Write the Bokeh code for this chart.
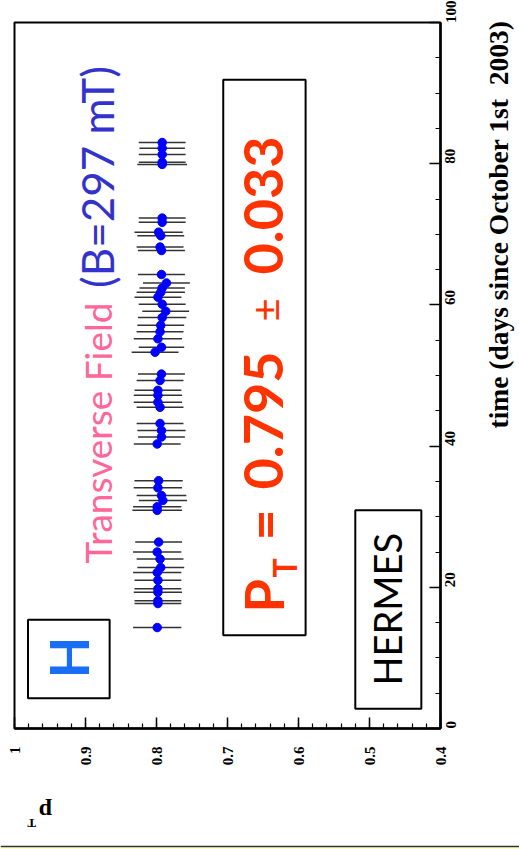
import math
from bokeh.plotting import figure
from bokeh.models import (Range1d, SingleIntervalTicker, Label, BoxAnnotation,
                          CustomJSTickFormatter, ColumnDataSource)
from bokeh.layouts import column, row
from bokeh.embed import file_html
from bokeh.resources import INLINE

# ---- data ----
days = [14.3, 17.7, 18.1, 19.3, 19.8, 21.0, 22.1, 22.8, 24.0, 25.0, 26.4,
        30.9, 31.4, 32.3, 33.0, 34.1, 35.1,
        40.3, 41.3, 42.2, 43.2,
        45.5, 46.2, 47.2, 47.9, 49.3, 50.2,
        53.3, 54.0, 55.2, 56.2, 57.1, 58.2, 59.1, 60.1, 61.1, 61.8, 62.4, 63.1, 64.3,
        67.7, 68.2, 69.8, 70.3, 71.7, 72.3,
        79.9, 80.2, 81.3, 82.2, 83.0]
pt = [0.799, 0.798, 0.798, 0.798, 0.798, 0.798, 0.799, 0.794, 0.795, 0.799, 0.797,
      0.799, 0.799, 0.791, 0.793, 0.798, 0.797,
      0.799, 0.793, 0.793, 0.795,
      0.795, 0.798, 0.798, 0.798, 0.795, 0.793,
      0.802, 0.793, 0.798, 0.795, 0.794, 0.792, 0.787, 0.792, 0.798, 0.794, 0.792, 0.786, 0.793,
      0.793, 0.795, 0.794, 0.797, 0.792, 0.792,
      0.792, 0.792, 0.792, 0.792, 0.792]
err = [0.034, 0.033, 0.033, 0.034, 0.033, 0.033, 0.034, 0.033, 0.033, 0.034, 0.033,
       0.035, 0.034, 0.034, 0.035, 0.034, 0.034,
       0.033, 0.033, 0.034, 0.033,
       0.033, 0.034, 0.034, 0.033, 0.033, 0.033,
       0.033, 0.032, 0.034, 0.033, 0.033, 0.034, 0.033, 0.033, 0.033, 0.034, 0.032, 0.033, 0.033,
       0.033, 0.033, 0.033, 0.034, 0.033, 0.033,
       0.035, 0.033, 0.033, 0.032, 0.033]

time_title = "time (days since October 1st \u00a02003)"

src = ColumnDataSource(dict(
    t=days, p=pt,
    lo=[a - b for a, b in zip(pt, err)],
    hi=[a + b for a, b in zip(pt, err)],
))

p = figure(width=475, height=783, x_range=Range1d(1.0, 0.4), y_range=Range1d(0, 100),
           y_axis_location="right", toolbar_location=None, output_backend="svg",
           min_border_left=14, min_border_top=22, min_border_right=35, min_border_bottom=55)
p.xgrid.visible = False
p.ygrid.visible = False
p.outline_line_color = "black"
p.outline_line_width = 2
p.background_fill_color = "white"
p.border_fill_color = "white"

for ax, interval, nminor, standoff in ((p.xaxis[0], 0.1, 5, 18), (p.yaxis[0], 20, 4, 10)):
    ax.ticker = SingleIntervalTicker(interval=interval, num_minor_ticks=nminor)
    ax.axis_line_width = 2.5
    ax.axis_line_color = "black"
    ax.major_tick_in = 11
    ax.major_tick_out = 0
    ax.minor_tick_in = 5
    ax.minor_tick_out = 0
    ax.major_tick_line_width = 1.5
    ax.minor_tick_line_width = 1.2
    ax.major_label_orientation = math.pi / 2
    ax.major_label_text_font = "Liberation Serif"
    ax.major_label_text_font_style = "bold"
    ax.major_label_text_font_size = "15px"
    ax.major_label_text_color = "black"
    ax.major_label_standoff = standoff

p.xaxis[0].formatter = CustomJSTickFormatter(
    code="return Math.abs(tick-1) < 1e-9 ? '1' : tick.toFixed(1);")
p.yaxis[0].formatter = CustomJSTickFormatter(code="return tick.toFixed(0);")

p.segment(x0="lo", x1="hi", y0="t", y1="t", source=src, line_color="#333333", line_width=1.5)
p.scatter(x="p", y="t", source=src, size=8.5, color="#0000ff")

# boxes
for l, r, b, t in ((0.981, 0.866, 4.3, 15.4), (0.706, 0.590, 13.2, 91.9), (0.520, 0.427, 2.8, 30.9)):
    p.add_layout(BoxAnnotation(left=l, right=r, bottom=b, top=t, fill_color=None,
                               fill_alpha=0, line_color="black", line_width=2, line_alpha=1))

def lab(fig, x, y, text, font, size, color, style="normal", align="left",
        angle=math.pi / 2):
    fig.add_layout(Label(x=x, y=y, text=text, angle=angle, text_font=font,
                         text_font_size=size, text_font_style=style, text_color=color,
                         text_align=align, text_baseline="middle"))

lab(p, 0.9246, 10.06, "H", "Lato", "54px", "#1a6ef5", "bold", align="center")
lab(p, 0.8838, 23.37, "Transverse Field", "Lato", "37px", "#ff6699")
lab(p, 0.8838, 62.4, "(B=297 mT)", "Lato", "44px", "#3333cc")
lab(p, 0.6493, 16.43, "P", "Lato", "54px", "#ff3300", "bold")
lab(p, 0.6204, 21.4, "T", "Lato", "32px", "#ff3300", "bold")
lab(p, 0.6493, 26.63, "=", "Lato", "54px", "#ff3300", "bold")
lab(p, 0.6493, 33.85, "0.795", "Lato", "54px", "#ff3300", "bold")
lab(p, 0.6451, 57.65, "\u00b1", "Lato", "40px", "#ff3300")
lab(p, 0.6493, 64.31, "0.033", "Lato", "54px", "#ff3300", "bold")
lab(p, 0.4751, 6.09, "HERMES", "Lato", "38px", "black")

def blank(w, h):
    f = figure(width=w, height=h, x_range=Range1d(0, w), y_range=Range1d(0, h),
               toolbar_location=None, output_backend="svg",
               x_axis_location=None, y_axis_location=None,
               min_border_left=0, min_border_right=0, min_border_bottom=0, min_border_top=0,
               background_fill_color="white", border_fill_color="white",
               outline_line_color=None)
    f.xgrid.visible = False
    f.ygrid.visible = False
    return f

# P_T axis title (upside down, below the frame)
bottom = blank(475, 58)
lab(bottom, 34.5, 30, "p", "Liberation Serif", "24px", "black", "bold",
    align="center", angle=math.pi)
lab(bottom, 19, 18, "T", "Liberation Serif", "13px", "black", "bold",
    align="center", angle=math.pi)

# time axis title (right of the axis)
right = blank(44, 841)
lab(right, 22.5, 413, time_title, "Liberation Serif", "27.5px", "black", "bold")

band = figure(width=519, height=8, toolbar_location=None, output_backend="svg",
              x_axis_location=None, y_axis_location=None,
              min_border_left=0, min_border_right=0, min_border_bottom=0, min_border_top=2,
              background_fill_color="#ffffcc", border_fill_color="#333333",
              outline_line_color=None)
band.xgrid.visible = False
band.ygrid.visible = False

layout = column(row(column(p, bottom, spacing=0), right, spacing=0), band, spacing=0)
open("out.html", "w").write(file_html(layout, INLINE))
